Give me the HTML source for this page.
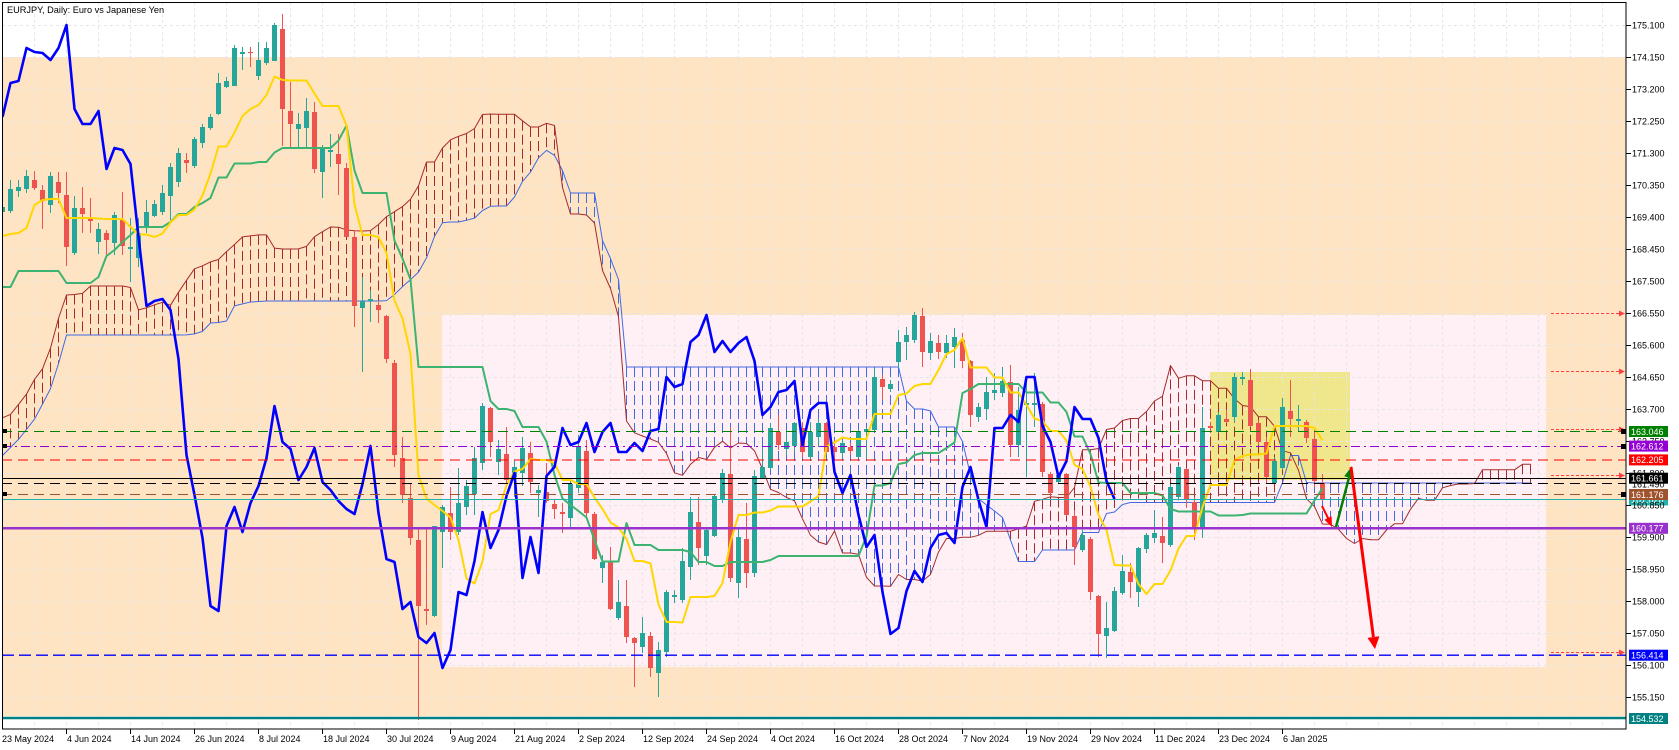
<!DOCTYPE html>
<html><head><meta charset="utf-8"><style>
html,body{margin:0;padding:0;background:#fff;}
svg{display:block;font-family:"Liberation Sans",sans-serif;}
</style></head><body>
<svg id="s" width="1679" height="750" viewBox="0 0 1679 750" xmlns="http://www.w3.org/2000/svg">
<defs><clipPath id="cp"><rect x="2" y="2" width="1624" height="727"/></clipPath></defs>
<rect width="1679" height="750" fill="#fff"/>
<g clip-path="url(#cp)">
<rect x="2" y="57" width="1624" height="659" fill="#ffe4c4"/>
<rect x="442" y="315" width="1104" height="352" fill="#fff0f5"/>
<rect x="1210" y="372" width="140" height="108" fill="#f0e68c"/>
<path stroke="#e6e6e6" stroke-width="1" stroke-dasharray="3,3" fill="none" d="M34.5 2V729M66.5 2V729M98.5 2V729M130.5 2V729M162.5 2V729M194.5 2V729M226.5 2V729M258.5 2V729M290.5 2V729M322.5 2V729M354.5 2V729M386.5 2V729M418.5 2V729M450.5 2V729M482.5 2V729M514.5 2V729M546.5 2V729M578.5 2V729M610.5 2V729M642.5 2V729M674.5 2V729M706.5 2V729M738.5 2V729M770.5 2V729M802.5 2V729M834.5 2V729M866.5 2V729M898.5 2V729M930.5 2V729M962.5 2V729M994.5 2V729M1026.5 2V729M1058.5 2V729M1090.5 2V729M1122.5 2V729M1154.5 2V729M1186.5 2V729M1218.5 2V729M1250.5 2V729M1282.5 2V729M1314.5 2V729M1346.5 2V729M1378.5 2V729M1410.5 2V729M1442.5 2V729M1474.5 2V729M1506.5 2V729M1538.5 2V729M1570.5 2V729M1602.5 2V729M2 25.5H1626M2 57.5H1626M2 89.5H1626M2 121.5H1626M2 153.5H1626M2 185.5H1626M2 217.5H1626M2 249.5H1626M2 281.5H1626M2 313.5H1626M2 345.5H1626M2 377.5H1626M2 409.5H1626M2 441.5H1626M2 473.5H1626M2 505.5H1626M2 537.5H1626M2 569.5H1626M2 601.5H1626M2 633.5H1626M2 665.5H1626M2 697.5H1626"/>
<g id="dyn"></g>
<g fill="none">
<line x1="2" y1="431.5" x2="1626" y2="431.5" stroke="#008000" stroke-dasharray="10,6"/>
<line x1="2" y1="446.5" x2="1626" y2="446.5" stroke="#9400d3" stroke-dasharray="9,4,2,4"/>
<line x1="2" y1="460" x2="1626" y2="460" stroke="#ff0000" stroke-dasharray="10,6"/>
<line x1="2" y1="478.5" x2="1626" y2="478.5" stroke="#000"/>
<line x1="2" y1="483.5" x2="1626" y2="483.5" stroke="#000" stroke-dasharray="10,6"/>
<line x1="2" y1="494.5" x2="1626" y2="494.5" stroke="#a0522d" stroke-dasharray="10,6"/>
<line x1="2" y1="499.5" x2="1626" y2="499.5" stroke="#20b2aa"/>
<line x1="2" y1="528.3" x2="1626" y2="528.3" stroke="#9932cc" stroke-width="2.5"/>
<line x1="2" y1="655.2" x2="1626" y2="655.2" stroke="#0000ff" stroke-width="1.3" stroke-dasharray="12,5"/>
<line x1="2" y1="718" x2="1626" y2="718" stroke="#008080" stroke-width="2.5"/>
</g>
<g stroke="#ff4040" stroke-dasharray="3,2" fill="none">
<line x1="1551" y1="313.5" x2="1620" y2="313.5"/>
<line x1="1551" y1="371.5" x2="1620" y2="371.5"/>
<line x1="1551" y1="429.5" x2="1620" y2="429.5"/>
<line x1="1551" y1="475.5" x2="1620" y2="475.5"/>
<line x1="1551" y1="652.5" x2="1620" y2="652.5"/>
</g>
<g fill="#ff4040">
<polygon points="1619,310.5 1625,313.5 1619,316.5"/>
<polygon points="1619,368.5 1625,371.5 1619,374.5"/>
<polygon points="1619,426.5 1625,429.5 1619,432.5"/>
<polygon points="1619,472.5 1625,475.5 1619,478.5"/>
<polygon points="1619,649.5 1625,652.5 1619,655.5"/>
</g>
<g fill="#000">
<rect x="1621" y="429" width="5" height="5"/>
<rect x="1621" y="444" width="5" height="5"/>
<rect x="1621" y="492" width="5" height="5"/>
<rect x="3" y="429" width="4" height="4"/>
<rect x="3" y="444" width="4" height="4"/>
<rect x="3" y="492" width="4" height="4"/>
</g>
<line x1="1322" y1="506" x2="1328.5" y2="519" stroke="#f00" stroke-width="2"/>
<polygon points="1332,527 1331.6,516.2 1324.4,519.8" fill="#f00"/>
<line x1="1336" y1="527" x2="1349" y2="477.6" stroke="#008000" stroke-width="2.5"/>
<polygon points="1352,466 1353.8,478.9 1344.2,476.3" fill="#008000"/>
<line x1="1351" y1="467" x2="1373.4" y2="637" stroke="#f00" stroke-width="3"/>
<polygon points="1375,649 1379.4,636.3 1367.5,637.9" fill="#f00"/>
</g>
<rect x="2.5" y="2.5" width="1623.5" height="726.5" fill="none" stroke="#000" stroke-width="1"/>
<text x="7" y="13" font-size="9.2" fill="#000">EURJPY, Daily:  Euro vs Japanese Yen</text>
<!-- price axis -->
<rect x="1629" y="494.4" width="39" height="11" fill="#20b2aa"/>
<text x="1631" y="503" font-size="9" fill="#fff">161.020</text>
<g stroke="#000"><path d="M1626 25.5H1631M1626 57.5H1631M1626 89.5H1631M1626 121.5H1631M1626 153.5H1631M1626 185.5H1631M1626 217.5H1631M1626 249.5H1631M1626 281.5H1631M1626 313.5H1631M1626 345.5H1631M1626 377.5H1631M1626 409.5H1631M1626 441.5H1631M1626 473.5H1631M1626 505.5H1631M1626 537.5H1631M1626 569.5H1631M1626 601.5H1631M1626 633.5H1631M1626 665.5H1631M1626 697.5H1631"/></g>
<g font-size="9" fill="#000">
<text x="1632" y="28.5">175.100</text>
<text x="1632" y="60.5">174.150</text>
<text x="1632" y="92.5">173.200</text>
<text x="1632" y="124.5">172.250</text>
<text x="1632" y="156.5">171.300</text>
<text x="1632" y="188.5">170.350</text>
<text x="1632" y="220.5">169.400</text>
<text x="1632" y="252.5">168.450</text>
<text x="1632" y="284.5">167.500</text>
<text x="1632" y="316.5">166.550</text>
<text x="1632" y="348.5">165.600</text>
<text x="1632" y="380.5">164.650</text>
<text x="1632" y="412.5">163.700</text>
<text x="1632" y="444.5">162.750</text>
<text x="1632" y="476.5">161.800</text>
<text x="1632" y="487.5">161.490</text>
<text x="1632" y="508.5">160.850</text>
<text x="1632" y="540.5">159.900</text>
<text x="1632" y="572.5">158.950</text>
<text x="1632" y="604.5">158.000</text>
<text x="1632" y="636.5">157.050</text>
<text x="1632" y="668.5">156.100</text>
<text x="1632" y="700.5">155.150</text>
</g>
<g font-size="9" fill="#fff">
<rect x="1629" y="489" width="39" height="11" fill="#a0522d"/><text x="1631" y="497.8">161.176</text>
<rect x="1629" y="472.7" width="39" height="11" fill="#000"/><text x="1631" y="481.5">161.661</text>
<rect x="1629" y="454.4" width="39" height="11" fill="#ff0000"/><text x="1631" y="463.2">162.205</text>
<rect x="1629" y="440.6" width="39" height="11" fill="#9400d3"/><text x="1631" y="449.4">162.612</text>
<rect x="1629" y="426" width="39" height="11" fill="#008000"/><text x="1631" y="434.8">163.046</text>
<rect x="1629" y="522.8" width="39" height="11" fill="#9932cc"/><text x="1631" y="531.6">160.177</text>
<rect x="1629" y="649.7" width="39" height="11" fill="#0000ff"/><text x="1631" y="658.5">156.414</text>
<rect x="1629" y="713" width="39" height="11" fill="#008080"/><text x="1631" y="721.8">154.532</text>
</g>
<!-- time axis -->
<path stroke="#000" d="M66.5 729V734M130.5 729V734M194.5 729V734M258.5 729V734M322.5 729V734M386.5 729V734M450.5 729V734M514.5 729V734M578.5 729V734M642.5 729V734M706.5 729V734M770.5 729V734M834.5 729V734M898.5 729V734M962.5 729V734M1026.5 729V734M1090.5 729V734M1154.5 729V734M1218.5 729V734M1282.5 729V734"/>
<g font-size="9" fill="#000">
<text x="2" y="742">23 May 2024</text>
<text x="67" y="742">4 Jun 2024</text>
<text x="131" y="742">14 Jun 2024</text>
<text x="195" y="742">26 Jun 2024</text>
<text x="259" y="742">8 Jul 2024</text>
<text x="323" y="742">18 Jul 2024</text>
<text x="387" y="742">30 Jul 2024</text>
<text x="451" y="742">9 Aug 2024</text>
<text x="515" y="742">21 Aug 2024</text>
<text x="579" y="742">2 Sep 2024</text>
<text x="643" y="742">12 Sep 2024</text>
<text x="707" y="742">24 Sep 2024</text>
<text x="771" y="742">4 Oct 2024</text>
<text x="835" y="742">16 Oct 2024</text>
<text x="899" y="742">28 Oct 2024</text>
<text x="963" y="742">7 Nov 2024</text>
<text x="1027" y="742">19 Nov 2024</text>
<text x="1091" y="742">29 Nov 2024</text>
<text x="1155" y="742">11 Dec 2024</text>
<text x="1219" y="742">23 Dec 2024</text>
<text x="1283" y="742">6 Jan 2025</text>
</g>
</svg>
<script>
(function(){
var D="g 207 212 205 214|g 189 211 180 213|g 187 191 180 197|g 176 189 170 193|r 180 188 171 190|r 190 201 185 229|g 176 205 172 213|r 182 193 172 203|r 195 247 172 266|g 208 253 196 255|r 208 214 187 233|r 218 221 198 233|g 229 242 223 254|r 233 240 230 255|g 215 243 212 255|r 220 246 192 255|g 247 249 218 282|g 233 258 218 267|g 212 227 200 233|g 204 216 200 217|g 193 212 185 215|g 167 196 163 220|g 153 182 148 187|r 160 163 153 173|g 139 166 137 168|g 127 143 124 148|g 117 128 114 130|g 83 114 73 115|g 81 87 77 88|g 48 86 45 86|g 52 54 47 70|r 52 53 47 67|g 60 76 42 80|g 48 63 42 65|g 25 61 23 61|r 29 109 14 146|r 111 124 82 147|g 124 129 113 147|g 111 128 98 147|r 112 169 102 173|g 148 172 145 198|g 150 152 134 167|r 154 164 134 195|r 168 237 163 237|r 237 306 230 327|g 301 308 277 372|g 299 301 290 322|r 305 310 302 323|r 316 359 315 363|r 363 455 360 467|r 458 495 437 503|r 498 538 483 545|r 540 606 527 720|r 609 611 527 625|g 526 616 526 617|g 507 532 505 568|r 513 532 487 540|g 503 532 468 535|g 486 507 480 515|g 458 494 447 515|g 406 463 403 470|r 408 442 407 457|g 449 462 440 475|r 454 480 427 487|g 467 477 460 497|g 448 473 437 486|r 453 482 442 493|g 490 493 485 517|r 492 501 463 503|r 504 509 500 519|r 512 514 503 533|g 484 518 480 527|g 446 488 435 493|r 451 513 440 518|r 514 559 512 560|g 562 568 555 583|r 561 609 547 610|g 602 618 580 620|r 606 637 580 643|r 638 643 637 687|g 633 647 617 653|r 636 668 632 677|g 650 673 642 697|g 592 652 590 657|g 595 597 590 603|g 561 600 548 603|g 512 567 497 580|r 522 548 497 565|g 530 556 527 565|g 496 536 495 537|g 473 499 469 503|r 474 578 427 582|g 537 583 527 598|r 539 573 503 588|g 476 573 470 577|g 467 478 447 478|g 428 468 423 470|r 432 445 415 450|g 442 449 430 455|g 423 446 422 452|r 428 452 422 457|g 432 457 422 460|g 423 437 418 447|r 423 452 422 453|r 447 452 440 458|g 443 453 440 458|r 447 451 443 455|g 431 457 429 458|g 429 432 427 460|g 377 430 368 432|r 379 387 375 400|g 384 389 380 392|g 342 362 330 368|g 335 342 327 360|g 315 340 312 343|r 316 352 308 367|g 341 353 333 360|r 343 352 335 359|g 343 353 335 358|g 337 347 328 368|r 340 361 333 368|r 361 415 360 427|g 407 417 403 422|g 392 409 377 420|g 390 393 373 400|g 381 393 367 397|r 382 445 365 457|g 410 445 387 457|g 403 405 377 477|g 403 405 373 427|r 404 472 402 477|r 474 493 472 497|g 475 482 473 484|r 474 515 473 516|r 516 547 510 565|g 535 550 530 552|r 539 592 537 600|r 596 634 595 657|g 628 636 602 658|g 591 631 587 632|g 571 593 555 595|r 572 582 563 598|g 548 592 547 607|g 535 549 533 553|g 533 538 510 543|r 536 543 517 563|g 487 545 483 547|g 467 497 465 500|r 469 500 468 508|r 502 527 498 540|g 428 527 407 538|r 426 428 422 432|g 415 432 412 433|r 419 422 410 423|g 377 417 373 422|g 377 379 372 385|r 380 426 369 427|r 423 442 420 445|r 442 477 437 483|g 461 483 457 483|g 407 468 398 470|r 411 419 380 437|g 419 421 405 432|r 422 438 420 443|r 439 481 430 487|r 483 499 474 501";
var B=D.split('|').map(function(l){var p=l.split(' ');return [p[0],+p[1],+p[2],+p[3],+p[4]];});
var N=B.length;
var wt=B.map(function(b){return b[3];}), wb=B.map(function(b){return b[4];});
var cl=B.map(function(b){return b[0]==='g'?b[1]:b[2];});
function mid(a,b){var lo=1e9,hi=-1e9;for(var k=Math.max(0,a);k<=b;k++){if(wt[k]<lo)lo=wt[k];if(wb[k]>hi)hi=wb[k];}return (lo+hi)/2;}
var tenT=[236,234,233,228,205,200,199,199];
var kijT=[287,287,271,271,271,271,271,271,283,283,283,283,277,256,250,242,235,227,227,227,227,222,214,214,207];
var ten=[],kij=[];
for(var i=0;i<N;i++){ten[i]=i<8?tenT[i]:mid(i-8,i);kij[i]=i<25?kijT[i]:mid(i-25,i);}
function interp(P,x){if(x<=P[0][0])return P[0][1];for(var k=1;k<P.length;k++){if(x<=P[k][0]){var a=P[k-1],b=P[k];return a[1]+(b[1]-a[1])*(x-a[0])/(b[0]-a[0]);}}return P[P.length-1][1];}
var At=[[2,418],[10,415],[18,405],[26,395],[34,380],[42,370],[50,350],[58,320],[66,295],[82,294],[89,286],[130,286],[138,310],[146,308],[154,305],[162,302],[170,306],[178,293],[186,281],[194,269],[202,266],[210,262],[218,260],[226,252],[234,245],[242,237],[250,236],[266,234],[274,248],[282,249],[298,249],[306,247],[314,237],[322,232],[330,227],[338,227],[346,230],[357,231],[370,231],[378,225],[386,217],[394,212],[402,207],[410,200]];
var Bt=[[2,456],[18,440],[34,420],[50,390],[57,370],[64,340],[66,335],[186,335],[194,334],[202,332],[210,323],[226,322],[234,306],[250,302],[266,301],[386,301],[394,295],[402,287],[410,280],[418,273],[427,257],[435,235],[443,222],[459,222],[468,220],[475,218],[483,210],[491,206],[507,206],[514,198],[522,182],[530,173],[539,157],[546,150],[557,157]];
var SA=[],SB=[],M=N+26;
for(var j=0;j<M;j++){var x=8*j+2.5;SA[j]=j<51?interp(At,x):(ten[j-26]+kij[j-26])/2;SB[j]=j<70?interp(Bt,x):mid(j-77,j-26);}
var s='';
// hatching
for(var j=0;j<M;j++){var a=SA[j],b=SB[j];if(Math.abs(a-b)<1.5)continue;var x=8*j+2.5;var c=a<b?'#a52a2a':'#4169e1';s+='<line x1="'+x+'" x2="'+x+'" y1="'+Math.min(a,b).toFixed(1)+'" y2="'+Math.max(a,b).toFixed(1)+'" stroke="'+c+'" stroke-width="1" stroke-dasharray="10,4"/>';}
function pl(arr,start,col,w){var p=[];for(var k=0;k<arr.length;k++){p.push((8*(k+start)+2.5)+','+arr[k].toFixed(1));}return '<polyline fill="none" stroke="'+col+'" stroke-width="'+w+'" stroke-linejoin="round" points="'+p.join(' ')+'"/>';}
s+=pl(SB,0,'#4169e1',1);
s+=pl(SA,0,'#a52a2a',1);
// candles
for(var i=0;i<N;i++){var b=B[i];var col=b[0]==='g'?'#26a69a':'#ef5350';var x=8*i;
s+='<rect x="'+(x+2)+'" y="'+b[3]+'" width="1" height="'+Math.max(1,b[4]-b[3])+'" fill="'+col+'"/>';
s+='<rect x="'+x+'" y="'+b[1]+'" width="5" height="'+Math.max(1,b[2]-b[1])+'" fill="'+col+'"/>';}
s+=pl(kij,0,'#3cb371',2);
s+=pl(ten,0,'#ffd700',2);
var ch=[];for(var i=0;i+26<N;i++)ch.push(cl[i+26]);
s+=pl(ch,0,'#0000ff',2.6);
document.getElementById('dyn').innerHTML=s;
})();
</script>
</body></html>
